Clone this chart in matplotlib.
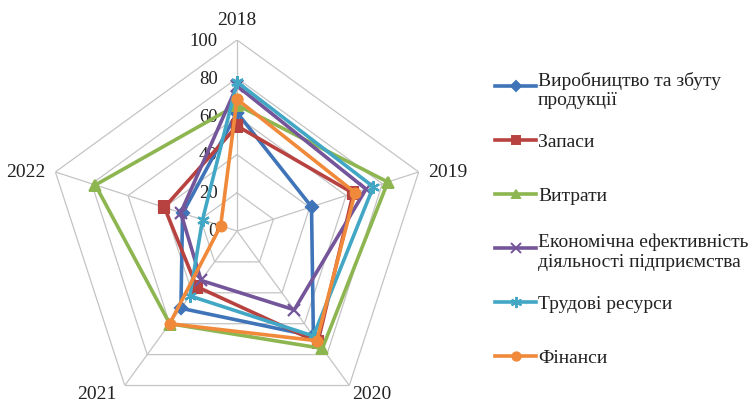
#!/usr/bin/env python3

import numpy as np
import matplotlib.pyplot as plt

plt.rcParams['font.family'] = ['Liberation Serif', 'DejaVu Serif']

#####
##### Data
#####

years = ['2018', '2019', '2020', '2021', '2022']
ticks = [0, 20, 40, 60, 80, 100]

names = ['Виробництво та збуту\nпродукції',
         'Запаси',
         'Витрати',
         'Економічна ефективність\nдіяльності підприємства',
         'Трудові ресурси',
         'Фінанси']

vyrobnytstvo = [62, 41, 68, 50, 30]
zapasy       = [55, 64, 72, 36, 40]
vytraty      = [66, 83, 76, 60, 78]
efektyvnist  = [76, 71, 51, 32, 31]
trudovi      = [78, 75, 68, 42, 19]
finansy      = [69, 65, 71, 60, 9]

series = [vyrobnytstvo, zapasy, vytraty, efektyvnist, trudovi, finansy]

#####
##### Style
#####

COLORS  = ['#3F74B8', '#B8423F', '#8DB550', '#74559A', '#41A7C4', '#F08A3A']
MARKERS = ['D', 's', '^', 'x', (6, 2, 0), 'o']
MSIZE   = [6, 7, 7, 8, 9, 7]
GRID    = '#c4c4c4'
TXT     = '#222222'

### label offsets (px) relative to the outer vertex of each axis
LABEL_POS = [(0, 21, 'center'), (9, 0, 'left'), (3, -8, 'left'),
             (-8, -8, 'right'), (-10, 0, 'right')]

fig = plt.figure(figsize=(7.56, 4.02), dpi=100)

### radar axes: centre at (237, 232) px, radius 191 px
ax = fig.add_axes([0.0609, -0.0522, 0.5053, 0.9502], projection='polar')
ax.set_theta_zero_location('N')
ax.set_theta_direction(-1)
ax.set_ylim(0, 100)
ax.grid(False)
ax.spines['polar'].set_visible(False)
ax.set_xticks([])
ax.set_yticks([])
ax.patch.set_visible(False)

theta = np.linspace(0, 2 * np.pi, len(years), endpoint=False)
theta_c = np.append(theta, theta[0])

### pentagon grid + spokes
for t in ticks[1:]:
    ax.plot(theta_c, [t] * len(theta_c), color=GRID, lw=0.9, zorder=1)
for th in theta:
    ax.plot([th, th], [0, ticks[-1]], color=GRID, lw=0.9, zorder=1)

### value labels along the top axis
for t in ticks:
    ax.annotate(str(t), xy=(0, t), xytext=(-14, 0), textcoords='offset points',
                ha='right', va='center', fontsize=13.5, color=TXT, zorder=2)

### category labels
px = 72 / fig.dpi
for th, y, (dx, dy, ha) in zip(theta, years, LABEL_POS):
    ax.annotate(y, xy=(th, ticks[-1]), xytext=(dx * px, dy * px),
                textcoords='offset points', ha=ha, va='center',
                fontsize=14, color=TXT)

### series
for vals, c, m, ms in zip(series, COLORS, MARKERS, MSIZE):
    ax.plot(theta_c, vals + vals[:1], color=c, lw=2.6, marker=m,
            markersize=ms, markeredgewidth=1.6, zorder=3)

### legend (first line of each label aligned with its handle)
lax = fig.add_axes([0, 0, 1, 1])
lax.set_xlim(0, 756)
lax.set_ylim(402, 0)
lax.axis('off')
for i, (n, c, m, ms) in enumerate(zip(names, COLORS, MARKERS, MSIZE)):
    y = 87 + i * 54
    lax.plot([495, 536], [y, y], color=c, lw=2.6)
    lax.plot([515.5], [y], color=c, marker=m, markersize=ms - 1, markeredgewidth=1.4)
    lax.text(538, y, n, ha='left', va='center_baseline', fontsize=14,
             color=TXT, linespacing=1.2)

plt.savefig('out.png', dpi=100)
